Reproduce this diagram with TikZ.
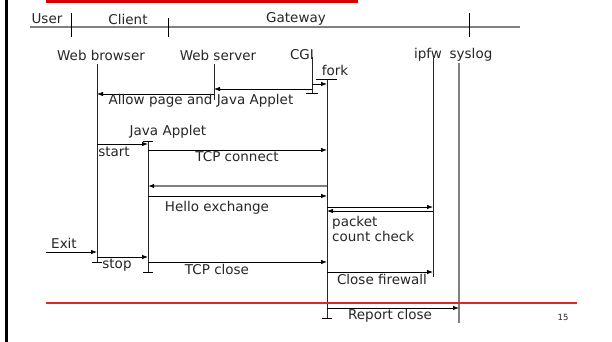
\documentclass[tikz,border=0pt]{standalone}
\usepackage{fontspec}
\setmainfont{DejaVu Sans}
\usetikzlibrary{arrows.meta}
\definecolor{slidered}{HTML}{D40000}
\definecolor{rulered}{HTML}{DC2828}
\definecolor{txt}{HTML}{262626}
\definecolor{rulegray}{HTML}{808080}

\begin{document}
\begin{tikzpicture}[x=1pt,y=-1pt,
  every node/.style={font=\fontsize{13.5}{15.5}\selectfont,text=txt,inner sep=0pt},
  life/.style={line width=0.8pt,black!85},
  msg/.style={line width=0.8pt,black,-{Latex[length=6pt,width=4.5pt,color=black]}},
  bar/.style={line width=0.8pt,black}]
  \useasboundingbox (0,0) rectangle (612,342);
  \fill[black] (5,0) rectangle (8,342);
  \fill[slidered] (46,0) rectangle (358,3.5);
  \draw[rulegray,line width=1.5pt] (30,27) -- (520,27);
  \draw[bar] (71,13) -- (71,37);
  \draw[bar] (168,18) -- (168,37);
  \draw[bar] (469,13) -- (469,37);
  \node (user) at (47,19) {User};
  \node (client) at (128,19) {Client};
  \node (gateway) at (296,19) {Gateway};

  \node (browser) at (101,55) {Web browser};
  \node (server) at (218,55) {Web server};
  \node (cgi) at (302,55) {CGI};
  \node (ipfw) at (428,55) {ipfw};
  \node (syslog) at (471,55) {syslog};
  \node (fork) at (335,70) {fork};
  \node (applet) at (168,132) {Java Applet};

  \coordinate (wb top) at (97,64);   \coordinate (wb end) at (97,262);
  \coordinate (ws top) at (214,64);  \coordinate (ws end) at (214,100);
  \coordinate (cg top) at (312,57);  \coordinate (cg end) at (312,93);
  \coordinate (fk top) at (327,79);  \coordinate (fk end) at (327,318);
  \coordinate (ja top) at (148,141); \coordinate (ja end) at (148,272);
  \coordinate (fw top) at (433,58);  \coordinate (fw end) at (433,277);
  \coordinate (sl top) at (459,63);  \coordinate (sl end) at (459,323);
  \coordinate (exit) at (46,252);
  \coordinate (rule l) at (46,303);  \coordinate (rule r) at (577,303);

  \foreach \n/\y in {forkmsg/84,allow1/89,allow2/94,start/144,tcpc/150,back/186,
    hello/196,fw1/207,fw2/211,stop/257,tcpx/262,closefw/272,report/308}
    \coordinate (\n) at (0,\y);

  \draw[life] (wb top) -- (wb end);
  \draw[life] (ws top) -- (ws end);
  \draw[life] (cg top) -- (cg end);
  \draw[life] (fk top) -- (fk end);
  \draw[life] (ja top) -- (ja end);
  \draw[life] (fw top) -- (fw end);
  \draw[rulegray,line width=1.6pt] (sl top) -- (sl end);

  \draw[bar] ([xshift=-6pt]cg end) -- ([xshift=6pt]cg end);
  \draw[bar] ([xshift=-11pt]fk top) -- ([xshift=10pt]fk top);
  \draw[bar] ([xshift=-5pt]fk end) -- ([xshift=5pt]fk end);
  \draw[bar] ([xshift=-5pt]wb end) -- ([xshift=5pt]wb end);
  \draw[bar] ([xshift=-5pt]ja top) -- ([xshift=5pt]ja top);
  \draw[bar] ([xshift=-5pt]ja end) -- ([xshift=5pt]ja end);

  \draw[msg] (cg top |- forkmsg) -- (fk top |- forkmsg);
  \draw[msg] (cg top |- allow1) -- (ws top |- allow1);
  \draw[msg] (ws top |- allow2) -- (wb top |- allow2);
  \draw[msg] (wb top |- start) -- (ja top |- start);
  \draw[msg] (ja top |- tcpc) -- (fk top |- tcpc);
  \draw[msg,rulegray,line width=1.6pt] (fk top |- back) -- (ja top |- back);
  \draw[msg] (ja top |- hello) -- (fk top |- hello);
  \draw[msg] (fk top |- fw1) -- (fw top |- fw1);
  \draw[msg] (fw top |- fw2) -- (fk top |- fw2);
  \draw[msg] (exit) -- (wb top |- exit);
  \draw[msg] (wb top |- stop) -- (ja top |- stop);
  \draw[msg] (ja top |- tcpx) -- (fk top |- tcpx);
  \draw[msg] (fk top |- closefw) -- (fw top |- closefw);
  \draw[rulered,line width=1.3pt] (rule l) -- (rule r);
  \draw[msg] (fk top |- report) -- (sl top |- report);

  \node (allowlbl) at (201,101) {Allow page and Java Applet};
  \node (startlbl) at (114,152) {start};
  \node (tcpclbl) at (237,157) {TCP connect};
  \node (hellolbl) at (217,208) {Hello exchange};
  \node[anchor=north west,align=left] (countlbl) at (332,216) {packet\\count check};
  \node (exitlbl) at (64,243) {Exit};
  \node (stoplbl) at (117,265) {stop};
  \node (tcpxlbl) at (217,269) {TCP close};
  \node (closelbl) at (382,279) {Close firewall};
  \node (reportlbl) at (390,316) {Report close};
  \node[font=\fontsize{8.5}{10}\selectfont] (page) at (563,317) {15};
\end{tikzpicture}
\end{document}
